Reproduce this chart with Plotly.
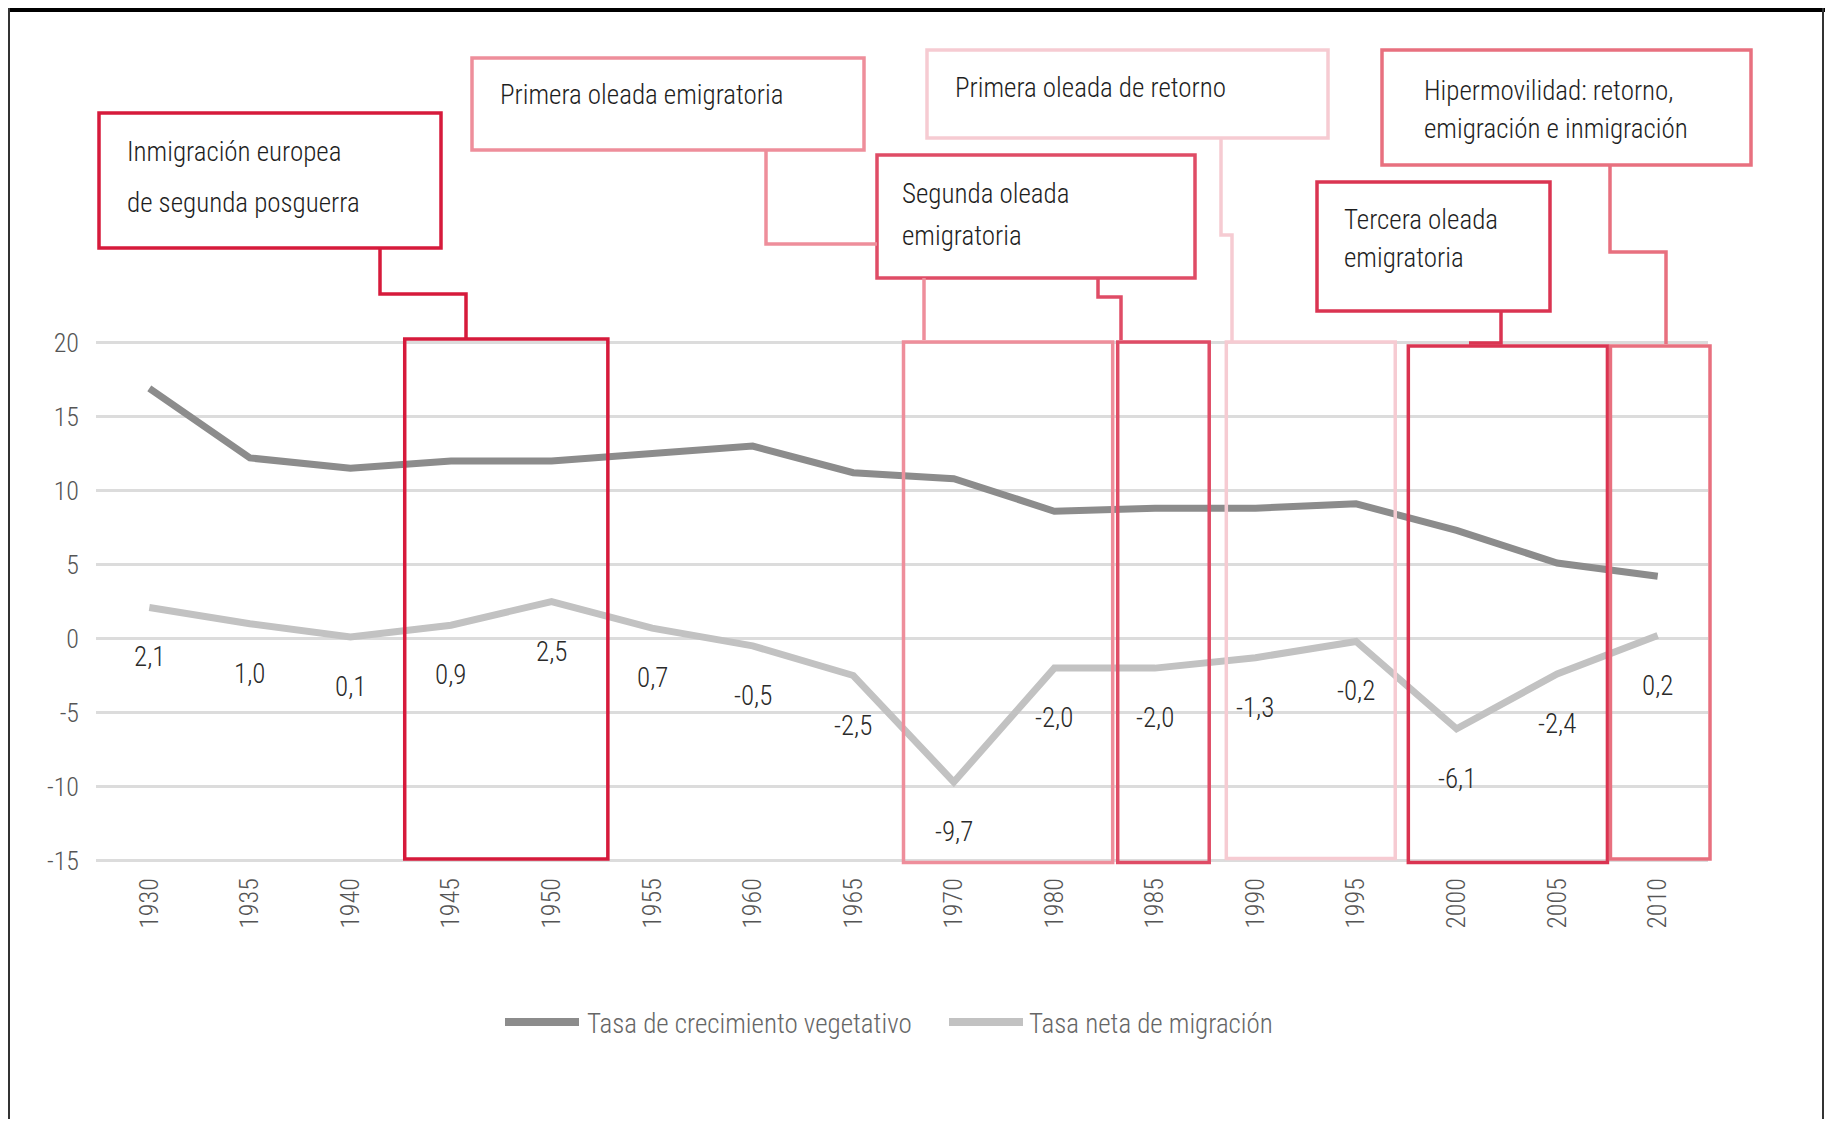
import plotly.graph_objects as go

# data
years = ["1930", "1935", "1940", "1945", "1950", "1955", "1960", "1965",
         "1970", "1980", "1985", "1990", "1995", "2000", "2005", "2010"]
vegetativo = [16.9, 12.2, 11.5, 12.0, 12.0, 12.5, 13.0, 11.2,
              10.8, 8.6, 8.8, 8.8, 9.1, 7.3, 5.1, 4.2]
migracion = [2.1, 1.0, 0.1, 0.9, 2.5, 0.7, -0.5, -2.5,
             -9.7, -2.0, -2.0, -1.3, -0.2, -6.1, -2.4, 0.2]
series_names = ["Tasa de crecimiento vegetativo", "Tasa neta de migración"]
y_ticks = [20, 15, 10, 5, 0, -5, -10, -15]

FONT = "Liberation Sans Narrow, Roboto Condensed, Arial Narrow, sans-serif"
FS = 27
FW = 300
C_DARK = "#8c8c8c"
C_LIGHT = "#c2c2c2"
RED1 = "#d61a3b"   # inmigración
RED2 = "#ee8e9b"   # primera oleada emigratoria
RED3 = "#df4c66"   # segunda oleada
RED4 = "#f6cbd2"   # primera oleada de retorno
RED5 = "#da3451"   # tercera oleada
RED6 = "#e8707f"   # hipermovilidad

# page geometry (body margin of 8px)
OFF = 8
W, H = 1833 - 2 * OFF, 1127 - 2 * OFF
PL, PR, PT, PB = 96, 1708, 341, 862
ml, mt = PL - OFF, PT - OFF
pw, ph = PR - PL, PB - PT
mr, mb = W - ml - pw, H - mt - ph
XR = [-0.53, 15.5]
YR = [-15.1, 20.1]


def px(x):
    return (x - PL) / pw


def py(y):
    return (PB - y) / ph


def cx(i):
    return (i - XR[0]) / (XR[1] - XR[0])


def cy(v):
    return (v - YR[0]) / (YR[1] - YR[0])


fig = go.Figure()
fig.add_trace(go.Scatter(x=years, y=vegetativo, mode="lines", name=series_names[0],
                         line=dict(color=C_DARK, width=7), showlegend=False))
fig.add_trace(go.Scatter(x=years, y=migracion, mode="lines", name=series_names[1],
                         line=dict(color=C_LIGHT, width=7), showlegend=False))

# value labels under the migration line
for i, v in enumerate(migracion):
    fig.add_annotation(x=i, y=v, xref="x", yref="y", yshift=-50, showarrow=False,
                       xanchor="center", yanchor="middle",
                       text=f"{v:.1f}".replace(".", ","),
                       font=dict(family=FONT, size=FS, color="#2a2a2a", weight=FW))

# period rectangles (category index / value space, drawn unclipped)
periods = [
    (2.54, 4.56, 20.24, -14.9, RED1),
    (7.50, 9.58, 20.03, -15.14, RED2),
    (9.63, 10.54, 20.03, -15.14, RED3),
    (10.71, 12.39, 20.03, -14.86, RED4),
    (12.52, 14.50, 19.76, -15.14, RED5),
    (14.53, 15.52, 19.76, -14.9, RED6),
]
for x0, x1, y0, y1, c in periods:
    fig.add_shape(type="rect", xref="paper", yref="paper", x0=cx(x0), x1=cx(x1), y0=cy(y0), y1=cy(y1),
                  line=dict(color=c, width=3.5), layer="above")

# callout boxes (page pixels)
boxes = [
    (99, 113, 441, 248, RED1),
    (472, 58, 864, 150, RED2),
    (877, 155, 1195, 278, RED3),
    (927, 50, 1328, 138, RED4),
    (1382, 50, 1751, 165, RED6),
    (1317, 182, 1550, 311, RED5),
]
for x0, y0, x1, y1, c in boxes:
    fig.add_shape(type="rect", xref="paper", yref="paper", x0=px(x0), x1=px(x1), y0=py(y0), y1=py(y1),
                  line=dict(color=c, width=3.5), fillcolor="white")

connectors = [
    ([380, 380, 466, 466], [248, 294, 294, 340], RED1),
    ([766, 766, 877], [150, 244, 244], RED2),
    ([924, 924], [278, 340], RED2),
    ([1098, 1098, 1121, 1121], [278, 297, 297, 340], RED3),
    ([1221, 1221, 1232, 1232], [138, 235, 235, 341], RED4),
    ([1501, 1501, 1469], [311, 343, 343], RED5),
    ([1610, 1610, 1666, 1666], [165, 252, 252, 344], RED6),
]
for xs, ys, c in connectors:
    path = "M " + " L ".join(f"{px(a)},{py(b)}" for a, b in zip(xs, ys))
    fig.add_shape(type="path", xref="paper", yref="paper", path=path,
                  line=dict(color=c, width=3.5))

texts = [
    (125, 152, "Inmigración europea"),
    (125, 203, "de segunda posguerra"),
    (498, 95, "Primera oleada emigratoria"),
    (900, 194, "Segunda oleada"),
    (900, 236, "emigratoria"),
    (953, 88, "Primera oleada de retorno"),
    (1422, 91, "Hipermovilidad: retorno,"),
    (1422, 129, "emigración e inmigración"),
    (1342, 220, "Tercera oleada"),
    (1342, 258, "emigratoria"),
]
for x, y, t in texts:
    fig.add_annotation(xref="paper", yref="paper", x=px(x), y=py(y), text=t, showarrow=False,
                       xanchor="left", yanchor="middle",
                       font=dict(family=FONT, size=FS, color="#1e1e1e", weight=FW))

# legend drawn by hand
legend_items = [(505, 579, 585, C_DARK), (949, 1023, 1027, C_LIGHT)]
for (x0, x1, xt, c), name in zip(legend_items, series_names):
    fig.add_shape(type="line", xref="paper", yref="paper", x0=px(x0), x1=px(x1), y0=py(1022), y1=py(1022),
                  line=dict(color=c, width=8))
    fig.add_annotation(xref="paper", yref="paper", x=px(xt), y=py(1024), text=name, showarrow=False,
                       xanchor="left", yanchor="middle",
                       font=dict(family=FONT, size=FS, color="#666666", weight=FW))

# outer frame
fig.add_shape(type="line", xref="paper", yref="paper", x0=px(OFF), x1=px(W + OFF), y0=py(OFF + 2), y1=py(OFF + 2),
              line=dict(color="black", width=4))
fig.add_shape(type="line", xref="paper", yref="paper", x0=px(OFF + 1), x1=px(OFF + 1), y0=py(OFF), y1=py(H + OFF),
              line=dict(color="#333333", width=2))
fig.add_shape(type="line", xref="paper", yref="paper", x0=px(W + OFF - 2), x1=px(W + OFF - 2), y0=py(OFF), y1=py(H + OFF),
              line=dict(color="#333333", width=2))

fig.update_layout(
    width=W,
    height=H,
    margin=dict(l=ml, r=mr, t=mt, b=mb, pad=0),
    plot_bgcolor="white",
    paper_bgcolor="white",
    showlegend=False,
    xaxis=dict(type="category", range=XR, showgrid=False, zeroline=False,
               tickangle=-90, ticklabelstandoff=10,
               tickfont=dict(family=FONT, size=FS - 1, color="#555555", weight=FW)),
    yaxis=dict(range=YR, tickvals=y_ticks, ticktext=[str(v) for v in y_ticks],
               showgrid=True, gridcolor="#dcdcdc", gridwidth=3,
               zeroline=False, ticklabelstandoff=16,
               tickfont=dict(family=FONT, size=FS - 1, color="#555555", weight=FW)),
)

fig.write_html("out.html")
